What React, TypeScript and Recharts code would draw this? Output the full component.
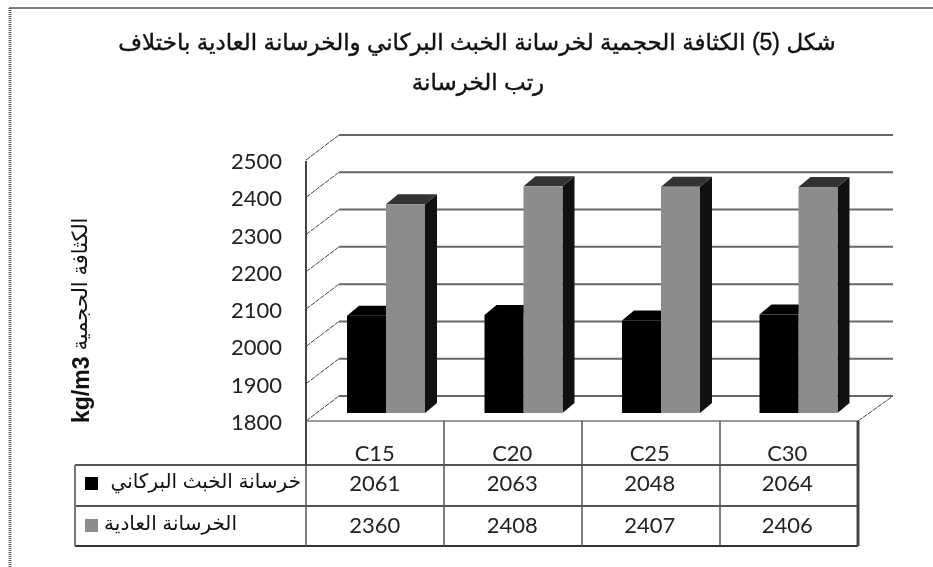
// Bulk density of volcanic-slag concrete vs normal concrete, drawn as a fake-3D column chart with a data table.
import React from 'react';
import { BarChart, Bar, XAxis, YAxis, CartesianGrid } from 'recharts';

const TITLE_LINE_1 = 'شكل (5) الكثافة الحجمية لخرسانة الخبث البركاني والخرسانة العادية باختلاف';
const TITLE_LINE_2 = 'رتب الخرسانة';
const AXIS_TITLE_AR = 'الكثافة الحجمية';
const AXIS_TITLE_UNIT = 'kg/m3';
const SLAG_NAME = 'خرسانة الخبث البركاني';
const NORMAL_NAME = 'الخرسانة العادية';

const grades = ['C15', 'C20', 'C25', 'C30'];
const slagDensity = [2061, 2063, 2048, 2064];
const normalDensity = [2360, 2408, 2407, 2406];
const yTicks = [1800, 1900, 2000, 2100, 2200, 2300, 2400, 2500];

const rows = grades.map((grade, i) => ({ grade, slag: slagDensity[i], normal: normalDensity[i] }));

const W = 933;
const H = 567;
const LATIN = 'Lato, sans-serif';
const ARABIC = '"Liberation Sans", "DejaVu Sans", sans-serif';

// wall offsets relative to the plane the bars stand in
const FRONT_DX = -11;
const FRONT_DY = 8;
const BACK_DX = 22;
const BACK_DY = -17;

// table outline
const TABLE_LEFT = 75;
const TABLE_X0 = 306;
const COL_W = 138;
const TABLE_RIGHT = TABLE_X0 + COL_W * 4;
const ROW_TOP = 421;
const ROW_1 = 465;
const ROW_2 = 506;
const ROW_3 = 546;
const LINE = '#555';

const BAR_DX = 12;
const BAR_DY = 10;

const gridLine = (props: any) => {
  const { x1, x2, y1 } = props;
  const fx = x1 + FRONT_DX;
  const bx = x1 + BACK_DX;
  const rightX = x2 + 26;
  return (
    <g key={props.key ?? y1}>
      <line x1={fx} y1={y1 + FRONT_DY} x2={bx} y2={y1 + BACK_DY} stroke="#444" strokeWidth={1} strokeDasharray="5 1" />
      <line x1={bx} y1={y1 + BACK_DY} x2={rightX} y2={y1 + BACK_DY} stroke="#666" strokeWidth={2} />
    </g>
  );
};

const Column3D = (props: any) => {
  const { x, y, width, height, front, top, side } = props;
  const bottom = y + height;
  const right = x + width;
  return (
    <g>
      <polygon points={`${right},${y} ${right + BAR_DX},${y - BAR_DY} ${right + BAR_DX},${bottom - BAR_DY} ${right},${bottom}`} fill={side} />
      <polygon points={`${x},${y} ${x + BAR_DX},${y - BAR_DY} ${right + BAR_DX},${y - BAR_DY} ${right},${y}`} fill={top} />
      <rect x={x} y={y} width={width} height={height} fill={front} />
    </g>
  );
};

const TableColumnTick = (props: any) => {
  const { x, index, payload } = props;
  const cx = x + FRONT_DX;
  const style = { fontFamily: LATIN, fontSize: 22, fill: '#222', textAnchor: 'middle' as const };
  return (
    <g>
      <text x={cx} y={461} {...style}>{payload.value}</text>
      <text x={cx} y={491} {...style}>{slagDensity[index]}</text>
      <text x={cx} y={533} {...style}>{normalDensity[index]}</text>
    </g>
  );
};

const ValueTick = (props: any) => {
  const { y, payload } = props;
  return (
    <text x={282} y={y + FRONT_DY + 9} textAnchor="end" fontFamily={LATIN} fontSize={22} fill="#222">
      {payload.value}
    </text>
  );
};

const Chrome = () => (
  <g>
    {/* page frame from the scan */}
    <line x1={9} y1={8} x2={W} y2={8} stroke="#555" strokeWidth={1.5} />
    <line x1={10} y1={8} x2={10} y2={H} stroke="#555" strokeWidth={3} strokeDasharray="1 1" />

    <text x={477} y={50} textAnchor="middle" direction="rtl" fontFamily={ARABIC} fontSize={23} stroke="#111" strokeWidth={0.4} fill="#111">{TITLE_LINE_1}</text>
    <text x={478} y={90} textAnchor="middle" direction="rtl" fontFamily={ARABIC} fontSize={23} stroke="#111" strokeWidth={0.4} fill="#111">{TITLE_LINE_2}</text>

    <text transform="translate(89,423) rotate(-90)" fontFamily={ARABIC} fontSize={23} fontWeight={700} fill="#111">{AXIS_TITLE_UNIT}</text>
    <text transform="translate(87,284) rotate(-90)" textAnchor="middle" direction="rtl" fontFamily={ARABIC} fontSize={21} fill="#111">{AXIS_TITLE_AR}</text>

    {/* floor edges */}
    <line x1={TABLE_X0} y1={ROW_TOP} x2={TABLE_RIGHT} y2={ROW_TOP} stroke="#999" strokeWidth={2} />
    <line x1={TABLE_RIGHT} y1={ROW_TOP} x2={TABLE_RIGHT + 35} y2={ROW_TOP - 25} stroke="#444" strokeWidth={1} strokeDasharray="5 1" />

    {/* data table */}
    <line x1={TABLE_LEFT} y1={ROW_1} x2={TABLE_RIGHT} y2={ROW_1} stroke={LINE} strokeWidth={2} />
    <line x1={TABLE_LEFT} y1={ROW_2} x2={TABLE_RIGHT} y2={ROW_2} stroke={LINE} strokeWidth={2} />
    <line x1={TABLE_LEFT} y1={ROW_3} x2={TABLE_RIGHT} y2={ROW_3} stroke="#333" strokeWidth={2} />
    <line x1={TABLE_LEFT} y1={ROW_1} x2={TABLE_LEFT} y2={ROW_3} stroke="#777" strokeWidth={2} />
    <line x1={TABLE_X0} y1={161} x2={TABLE_X0} y2={ROW_1} stroke="#444" strokeWidth={2} />
    <line x1={TABLE_X0} y1={ROW_1} x2={TABLE_X0} y2={ROW_3} stroke={LINE} strokeWidth={1.5} />
    {grades.map((g, i) => (
      <line
        key={g}
        x1={TABLE_X0 + COL_W * (i + 1)}
        y1={ROW_TOP}
        x2={TABLE_X0 + COL_W * (i + 1)}
        y2={ROW_3}
        stroke={i === 3 ? '#444' : LINE}
        strokeWidth={i === 3 ? 3 : 1.5}
      />
    ))}

    {/* series keys; with rtl text the start anchor is the right-hand edge */}
    <rect x={85} y={477} width={13} height={13} fill="#000" />
    <text x={301} y={488} textAnchor="start" direction="rtl" fontFamily={ARABIC} fontSize={20} fill="#111">{SLAG_NAME}</text>
    <rect x={85} y={519} width={13} height={13} fill="#8c8c8c" />
    <text x={237} y={530} textAnchor="start" direction="rtl" fontFamily={ARABIC} fontSize={20} fill="#111">{NORMAL_NAME}</text>
  </g>
);

export default function App() {
  return (
    <div style={{ position: 'absolute', left: 0, top: 0, width: W, height: H, background: '#fff', filter: 'blur(0.7px)' }}>
      <BarChart
        width={W}
        height={H}
        data={rows}
        barSize={39}
        barGap={0}
        margin={{ top: 152, right: 66, bottom: 24, left: 281 }}
      >
        <CartesianGrid vertical={false} horizontal={gridLine} />
        <XAxis dataKey="grade" height={130} axisLine={false} tickLine={false} tick={<TableColumnTick />} interval={0} />
        <YAxis
          type="number"
          domain={[1800, 2500]}
          ticks={yTicks}
          width={36}
          axisLine={false}
          tickLine={false}
          tick={<ValueTick />}
          interval={0}
        />
        <Bar dataKey="slag" isAnimationActive={false} shape={<Column3D front="#000" top="#000" side="#000" />} />
        <Bar dataKey="normal" isAnimationActive={false} shape={<Column3D front="#8c8c8c" top="#333" side="#111" />} />
        <Chrome />
      </BarChart>
    </div>
  );
}
